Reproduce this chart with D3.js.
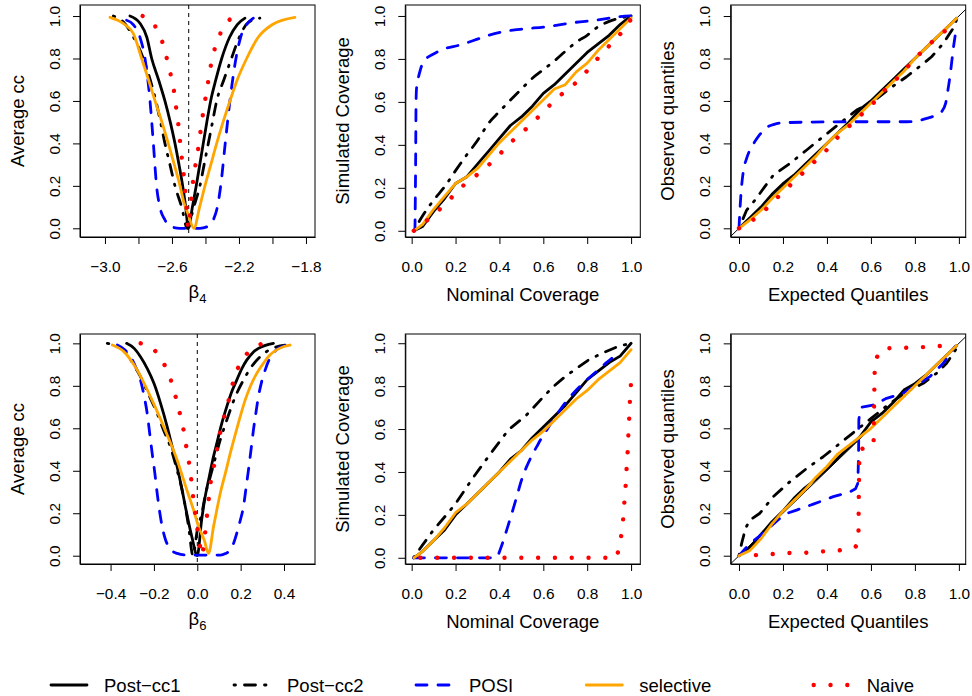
<!DOCTYPE html>
<html>
<head>
<meta charset="utf-8">
<script src="https://cdn.jsdelivr.net/npm/d3@7"></script>
<style>
  body { margin: 0; background: #fff; }
  svg { display: block; }
</style>
</head>
<body>
<svg id="chart" width="972" height="696"></svg>
<script>
'use strict';

// ---------- data ----------
const seriesNames = ['Post-cc1', 'Post-cc2', 'POSI', 'selective', 'Naive'];

const unitTicks = [0, 0.2, 0.4, 0.6, 0.8, 1.0];
const beta4Ticks = [-3.0, -2.8, -2.6, -2.4, -2.2, -2.0, -1.8];
const beta6Ticks = [-0.4, -0.2, 0.0, 0.2, 0.4];
const beta4True = -2.5;
const beta6True = 0.0;

const nominalGrid = [0.01, 0.05, 0.1, 0.15, 0.2, 0.25, 0.3, 0.35, 0.4, 0.45, 0.5, 0.55, 0.6, 0.65, 0.7, 0.75, 0.8, 0.85, 0.9, 0.95, 1.0];
const quantileGrid = [0, 0.05, 0.1, 0.15, 0.2, 0.25, 0.3, 0.35, 0.4, 0.45, 0.5, 0.55, 0.6, 0.65, 0.7, 0.75, 0.8, 0.85, 0.9, 0.95, 0.99];

// beta4: average confidence curves
const b4PostCc1 = [[-2.851,1.0],[-2.79,0.965],[-2.75,0.90],[-2.721,0.80],[-2.68,0.70],[-2.642,0.60],[-2.61,0.50],[-2.582,0.40],[-2.558,0.30],[-2.536,0.20],[-2.518,0.10],[-2.502,0.0],
  [-2.478,0.10],[-2.455,0.20],[-2.434,0.30],[-2.413,0.40],[-2.392,0.50],[-2.369,0.60],[-2.338,0.70],[-2.303,0.80],[-2.256,0.90],[-2.21,0.96],[-2.164,0.99]];
const b4PostCc2 = [[-2.95,1.0],[-2.891,0.973],[-2.831,0.903],[-2.771,0.80],[-2.73,0.70],[-2.696,0.60],[-2.668,0.50],[-2.642,0.40],[-2.612,0.30],[-2.582,0.20],[-2.542,0.10],[-2.508,0.0],
  [-2.47,0.10],[-2.433,0.20],[-2.408,0.30],[-2.383,0.40],[-2.358,0.50],[-2.333,0.60],[-2.29,0.70],[-2.245,0.80],[-2.198,0.90],[-2.144,0.97],[-2.075,0.99]];
const b4Posi = [[-2.871,0.98],[-2.831,0.96],[-2.791,0.90],[-2.761,0.80],[-2.731,0.60],[-2.711,0.40],[-2.692,0.20],[-2.672,0.10],[-2.642,0.04],[-2.612,0.01],[-2.552,0.0],[-2.433,0.0],
  [-2.383,0.01],[-2.353,0.04],[-2.329,0.10],[-2.309,0.20],[-2.282,0.40],[-2.254,0.60],[-2.218,0.80],[-2.19,0.90],[-2.154,0.96],[-2.114,0.99]];
const b4Selective = [[-2.97,0.994],[-2.891,0.965],[-2.831,0.918],[-2.781,0.80],[-2.74,0.70],[-2.701,0.60],[-2.66,0.50],[-2.622,0.40],[-2.586,0.30],[-2.552,0.20],[-2.528,0.12],[-2.505,0.07],[-2.469,0.0],
  [-2.435,0.10],[-2.403,0.20],[-2.368,0.30],[-2.333,0.40],[-2.295,0.50],[-2.254,0.60],[-2.21,0.70],[-2.154,0.80],[-2.085,0.90],[-2.0,0.96],[-1.866,0.994]];
const b4Naive = [[-2.775,1.0],[-2.701,0.953],[-2.658,0.879],[-2.632,0.804],[-2.608,0.725],[-2.588,0.647],[-2.575,0.568],[-2.562,0.49],[-2.552,0.411],[-2.541,0.33],[-2.53,0.254],[-2.516,0.133],[-2.502,0.0],
  [-2.486,0.13],[-2.47,0.25],[-2.452,0.33],[-2.437,0.411],[-2.424,0.49],[-2.409,0.568],[-2.393,0.647],[-2.377,0.725],[-2.359,0.804],[-2.329,0.879],[-2.29,0.953],[-2.214,1.0]];

// simulated vs nominal coverage, top row
const p2PostCc1 = [0.0,0.02,0.09,0.15,0.22,0.25,0.31,0.37,0.43,0.49,0.53,0.58,0.64,0.68,0.73,0.78,0.83,0.87,0.91,0.96,1.0];
const p2Selective = [0.0,0.03,0.10,0.16,0.22,0.25,0.29,0.35,0.41,0.46,0.51,0.56,0.61,0.66,0.68,0.74,0.78,0.84,0.89,0.94,0.99];
const p2PostCc2 = [0.0,0.07,0.142,0.205,0.28,0.352,0.42,0.50,0.555,0.608,0.66,0.71,0.75,0.79,0.835,0.878,0.91,0.95,0.975,0.99,1.0];
const p2Naive = [0.0,0.03,0.075,0.12,0.175,0.225,0.262,0.305,0.355,0.41,0.455,0.50,0.555,0.605,0.65,0.69,0.745,0.805,0.86,0.915,0.985];
const p2Posi = [[0.015,0],[0.018,0.3],[0.02,0.6],[0.022,0.66],[0.03,0.71],[0.04,0.75],[0.053,0.787],[0.07,0.805],[0.091,0.818],[0.144,0.845],[0.22,0.865],[0.296,0.891],[0.35,0.91],[0.403,0.924],[0.494,0.938],[0.616,0.95],[0.737,0.969],[0.843,0.981],[0.95,0.997],[1.0,1.0]];

// observed vs expected quantiles, top row
const p3PostCc1 = [0.0,0.05,0.1,0.16,0.21,0.25,0.3,0.35,0.4,0.45,0.5,0.56,0.6,0.65,0.7,0.75,0.8,0.85,0.9,0.95,0.99];
const p3Selective = [0.0,0.04,0.085,0.14,0.19,0.24,0.29,0.34,0.4,0.45,0.49,0.54,0.59,0.64,0.69,0.74,0.8,0.85,0.9,0.95,0.99];
const p3Naive = [0.0,0.03,0.065,0.12,0.17,0.22,0.27,0.32,0.37,0.43,0.48,0.53,0.575,0.64,0.685,0.74,0.8,0.85,0.9,0.94,0.98];
const p3PostCc2 = [[0,0],[0.035,0.086],[0.073,0.133],[0.12,0.2],[0.156,0.25],[0.232,0.306],[0.308,0.369],[0.383,0.432],[0.459,0.495],[0.535,0.557],[0.611,0.597],[0.686,0.659],[0.762,0.714],[0.83,0.769],[0.876,0.808],[0.929,0.871],[0.974,0.942],[0.989,0.981]];
const p3Posi = [[0,0],[0.005,0.1],[0.012,0.2],[0.02,0.27],[0.035,0.33],[0.05,0.37],[0.07,0.405],[0.09,0.435],[0.126,0.475],[0.16,0.49],[0.2,0.497],[0.308,0.5],[0.535,0.502],[0.762,0.502],[0.82,0.508],[0.853,0.518],[0.9,0.535],[0.921,0.549],[0.94,0.59],[0.95,0.65],[0.96,0.72],[0.967,0.78],[0.975,0.85],[0.982,0.9],[0.986,0.93]];

// beta6: average confidence curves
const b6PostCc1 = [[-0.326,1.0],[-0.29,0.975],[-0.262,0.937],[-0.23,0.88],[-0.2,0.812],[-0.17,0.72],[-0.139,0.608],[-0.115,0.51],[-0.093,0.419],[-0.072,0.32],[-0.055,0.231],[-0.025,0.089],[0.0,0.0],
  [0.02,0.168],[0.035,0.27],[0.052,0.356],[0.07,0.445],[0.09,0.529],[0.112,0.62],[0.136,0.702],[0.158,0.77],[0.182,0.827],[0.205,0.88],[0.228,0.921],[0.255,0.955],[0.282,0.976],[0.351,1.0]];
const b6PostCc2 = [[-0.415,1.0],[-0.339,0.969],[-0.3,0.91],[-0.262,0.843],[-0.225,0.76],[-0.185,0.67],[-0.155,0.59],[-0.124,0.513],[-0.095,0.41],[-0.07,0.309],[-0.04,0.137],[-0.02,0.0],
  [0.0,0.12],[0.021,0.2],[0.04,0.3],[0.06,0.372],[0.083,0.46],[0.106,0.545],[0.13,0.62],[0.152,0.686],[0.18,0.76],[0.213,0.827],[0.25,0.89],[0.29,0.937],[0.33,0.968],[0.366,0.984],[0.405,0.992]];
const b6Posi = [[-0.369,0.992],[-0.335,0.97],[-0.308,0.937],[-0.285,0.89],[-0.262,0.827],[-0.245,0.75],[-0.231,0.67],[-0.22,0.58],[-0.208,0.482],[-0.196,0.39],[-0.185,0.294],[-0.174,0.21],[-0.162,0.137],[-0.148,0.08],[-0.132,0.042],[-0.113,0.02],[-0.093,0.011],[-0.048,0.003],
  [0.106,0.003],[0.13,0.01],[0.152,0.027],[0.168,0.06],[0.182,0.105],[0.198,0.165],[0.213,0.231],[0.225,0.32],[0.236,0.403],[0.248,0.5],[0.259,0.592],[0.27,0.67],[0.282,0.749],[0.297,0.82],[0.313,0.874],[0.33,0.92],[0.351,0.953],[0.37,0.975],[0.389,0.984],[0.412,0.992]];
const b6Selective = [[-0.392,0.992],[-0.339,0.961],[-0.277,0.874],[-0.216,0.749],[-0.155,0.608],[-0.093,0.451],[-0.048,0.309],[-0.017,0.215],[0.006,0.137],[0.032,0.074],[0.052,0.011],
  [0.075,0.137],[0.09,0.215],[0.106,0.294],[0.13,0.39],[0.152,0.482],[0.175,0.57],[0.198,0.655],[0.22,0.73],[0.244,0.796],[0.275,0.86],[0.305,0.906],[0.335,0.945],[0.366,0.969],[0.4,0.985],[0.428,0.992]];
const b6Naive = [[-0.261,1.0],[-0.196,0.966],[-0.152,0.9],[-0.121,0.824],[-0.1,0.749],[-0.081,0.672],[-0.064,0.595],[-0.051,0.516],[-0.038,0.438],[-0.028,0.361],[-0.016,0.25],[0.0,0.13],[0.015,0.03],[0.02,0.0],
  [0.03,0.05],[0.038,0.124],[0.052,0.26],[0.064,0.361],[0.08,0.438],[0.093,0.516],[0.109,0.595],[0.129,0.672],[0.149,0.749],[0.167,0.824],[0.195,0.9],[0.244,0.966],[0.305,1.0]];

// simulated vs nominal coverage, bottom row
const p5PostCc1 = [0.0,0.03,0.08,0.13,0.2,0.25,0.3,0.35,0.4,0.46,0.5,0.56,0.61,0.66,0.71,0.77,0.83,0.87,0.91,0.94,1.0];
const p5Selective = [0.0,0.03,0.08,0.14,0.21,0.25,0.3,0.35,0.4,0.45,0.5,0.55,0.59,0.64,0.69,0.74,0.78,0.83,0.87,0.91,0.97];
const p5PostCc2 = [[0.008,0],[0.05,0.06],[0.099,0.129],[0.15,0.19],[0.198,0.249],[0.274,0.365],[0.357,0.482],[0.441,0.596],[0.524,0.666],[0.6,0.75],[0.646,0.798],[0.7,0.845],[0.752,0.883],[0.81,0.925],[0.874,0.956],[0.94,0.985],[1,1]];
const p5Posi = [[0.008,0],[0.38,0],[0.395,0.015],[0.403,0.036],[0.418,0.08],[0.433,0.129],[0.456,0.205],[0.479,0.285],[0.5,0.36],[0.524,0.425],[0.547,0.475],[0.57,0.518],[0.593,0.56],[0.616,0.596],[0.646,0.645],[0.676,0.689],[0.706,0.73],[0.737,0.767],[0.768,0.8],[0.798,0.829],[0.83,0.858],[0.859,0.883],[0.885,0.907],[0.912,0.93]];
const p5Naive = [[0.04,0],[0.935,0],[0.942,0.036],[0.95,0.075],[0.957,0.114],[0.965,0.191],[0.97,0.269],[0.976,0.347],[0.98,0.425],[0.985,0.505],[0.988,0.583],[0.992,0.661],[0.995,0.74],[1.0,0.821]];

// observed vs expected quantiles, bottom row
const p6PostCc1 = [0.0,0.04,0.1,0.16,0.21,0.27,0.32,0.36,0.41,0.46,0.51,0.56,0.63,0.67,0.72,0.78,0.81,0.85,0.9,0.95,0.99];
const p6Selective = [0.0,0.025,0.08,0.15,0.21,0.26,0.31,0.37,0.42,0.48,0.52,0.56,0.6,0.65,0.7,0.75,0.8,0.85,0.9,0.95,0.99];
const p6PostCc2 = [[0,0],[0.012,0.058],[0.03,0.13],[0.05,0.168],[0.095,0.2],[0.156,0.278],[0.232,0.349],[0.308,0.411],[0.383,0.466],[0.459,0.529],[0.535,0.592],[0.611,0.655],[0.686,0.717],[0.762,0.772],[0.838,0.812],[0.898,0.859],[0.944,0.906],[0.989,0.976]];
const p6Posi = [[0,0],[0.05,0.058],[0.09,0.09],[0.126,0.121],[0.186,0.176],[0.22,0.2],[0.262,0.215],[0.338,0.243],[0.429,0.278],[0.505,0.301],[0.53,0.315],[0.54,0.34],[0.542,0.403],[0.544,0.5],[0.545,0.639],[0.55,0.68],[0.558,0.699],[0.611,0.71],[0.671,0.741],[0.747,0.765],[0.808,0.804],[0.868,0.843],[0.929,0.906],[0.982,0.984]];
const p6Naive = [[0.077,0.003],[0.156,0.008],[0.227,0.013],[0.303,0.014],[0.379,0.02],[0.455,0.025],[0.527,0.038],[0.543,0.06],[0.545,0.3],[0.548,0.5],[0.612,0.52],[0.615,0.75],[0.618,0.92],[0.652,0.976],[0.8,0.98],[0.955,0.99]];


// ---------- layout / style ----------
const FONT = '"Liberation Sans", Arial, Helvetica, sans-serif';
const tickFont = 15.4,
	titleFont = 18.5;

const colLeft = [80, 405.3, 730.7],
	boxWidth = 235,
	rowTop = [5, 334],
	rowHeight = [232, 230];

const seriesStyles = [
	{ color: '#000000', width: 2.8, dash: null },
	{ color: '#000000', width: 2.8, dash: '1.5 9 11 9' },
	{ color: '#0000ff', width: 2.8, dash: '11 11' },
	{ color: '#ffa500', width: 2.8, dash: null },
	{ color: '#ff0000', width: 4.4, dash: '0.01 16.8' }
];

// legend text start positions along the bottom strip
const legendTextX = [104, 287, 469, 639.3, 866.7];


const zip = function(xs, ys) {
	return xs.map(function(x, i) { return [x, ys[i]]; });
};

// smooth: indices of series drawn with a monotone curve instead of straight segments
const panels = [
	{ col: 0, row: 0, xDomain: [-3.149, -1.746], yDomain: [-0.041, 1.052], xTicks: beta4Ticks, labelEvery: 2,
		xSub: '4', yTitle: 'Average cc', vline: beta4True, smooth: [0, 1, 2, 3, 4],
		series: [b4PostCc1, b4PostCc2, b4Posi, b4Selective, b4Naive] },
	{ col: 1, row: 0, xDomain: [-0.029, 1.042], yDomain: [-0.029, 1.051], xTicks: unitTicks, labelEvery: 1,
		xTitle: 'Nominal Coverage', yTitle: 'Simulated Coverage', smooth: [1, 2],
		series: [zip(nominalGrid, p2PostCc1), zip(nominalGrid, p2PostCc2), p2Posi, zip(nominalGrid, p2Selective), zip(nominalGrid, p2Naive)] },
	{ col: 2, row: 0, xDomain: [-0.0377, 1.031], yDomain: [-0.041, 1.052], xTicks: unitTicks, labelEvery: 1,
		xTitle: 'Expected Quantiles', yTitle: 'Observed quantiles', diagonal: true, smooth: [2],
		series: [zip(quantileGrid, p3PostCc1), p3PostCc2, p3Posi, zip(quantileGrid, p3Selective), zip(quantileGrid, p3Naive)] },
	{ col: 0, row: 1, xDomain: [-0.541, 0.543], yDomain: [-0.039, 1.044], xTicks: beta6Ticks, labelEvery: 1,
		xSub: '6', yTitle: 'Average cc', vline: beta6True, smooth: [0, 1, 2, 3, 4],
		series: [b6PostCc1, b6PostCc2, b6Posi, b6Selective, b6Naive] },
	{ col: 1, row: 1, xDomain: [-0.029, 1.042], yDomain: [-0.029, 1.043], xTicks: unitTicks, labelEvery: 1,
		xTitle: 'Nominal Coverage', yTitle: 'Simulated Coverage', smooth: [2],
		series: [zip(nominalGrid, p5PostCc1), p5PostCc2, p5Posi, zip(nominalGrid, p5Selective), p5Naive] },
	{ col: 2, row: 1, xDomain: [-0.0377, 1.031], yDomain: [-0.039, 1.044], xTicks: unitTicks, labelEvery: 1,
		xTitle: 'Expected Quantiles', yTitle: 'Observed quantiles', diagonal: true, smooth: [],
		series: [zip(quantileGrid, p6PostCc1), p6PostCc2, p6Posi, zip(quantileGrid, p6Selective), p6Naive] }
];


const svg = d3.select('#chart');
svg.append('rect').attr('width', 972).attr('height', 696).attr('fill', '#fff');

const fmt = d3.format('.1f');

/**
* draw one panel: lines, reference line, box, axes and titles
*/
const drawPanel = function(p, idx) {
	const left = colLeft[p.col],
		top = rowTop[p.row],
		w = boxWidth,
		h = rowHeight[p.row];

	const x = d3.scaleLinear().domain(p.xDomain).range([0, w]);
	const y = d3.scaleLinear().domain(p.yDomain).range([h, 0]);

	const g = svg.append('g').attr('transform', 'translate(' + left + ',' + top + ')');

	const clipId = 'clip' + idx;
	g.append('clipPath').attr('id', clipId)
		.append('rect').attr('width', w).attr('height', h);

	const plot = g.append('g').attr('clip-path', 'url(#' + clipId + ')');

	// reference lines (abline)
	if (p.vline !== undefined) {
		plot.append('line')
			.attr('x1', x(p.vline)).attr('x2', x(p.vline))
			.attr('y1', 0).attr('y2', h)
			.attr('stroke', '#000').attr('stroke-width', 1)
			.attr('stroke-dasharray', '4 4');
	}
	if (p.diagonal) {
		const lo = Math.min(p.xDomain[0], p.yDomain[0]) - 0.1,
			hi = Math.max(p.xDomain[1], p.yDomain[1]) + 0.1;
		plot.append('line')
			.attr('x1', x(lo)).attr('y1', y(lo))
			.attr('x2', x(hi)).attr('y2', y(hi))
			.attr('stroke', '#000').attr('stroke-width', 1);
	}

	const straight = d3.line()
		.x(function(d) { return x(d[0]); })
		.y(function(d) { return y(d[1]); });
	const curved = d3.line()
		.curve(d3.curveMonotoneX)
		.x(function(d) { return x(d[0]); })
		.y(function(d) { return y(d[1]); });

	p.series.forEach(function(data, i) {
		const st = seriesStyles[i],
			gen = p.smooth.indexOf(i) >= 0 ? curved : straight;
		plot.append('path')
			.attr('d', gen(data))
			.attr('fill', 'none')
			.attr('stroke', st.color)
			.attr('stroke-width', st.width)
			.attr('stroke-linecap', 'round')
			.attr('stroke-linejoin', 'round')
			.attr('stroke-dasharray', st.dash);
	});

	// box
	g.append('rect')
		.attr('width', w).attr('height', h)
		.attr('fill', 'none').attr('stroke', '#000').attr('stroke-width', 1);

	// axes
	const xAxis = d3.axisBottom(x)
		.tickValues(p.xTicks)
		.tickSize(7)
		.tickSizeOuter(0)
		.tickPadding(17.4)
		.tickFormat(function(d, i) { return i % p.labelEvery === 0 ? fmt(d) : ''; });

	const gx = g.append('g')
		.attr('transform', 'translate(0,' + h + ')')
		.call(xAxis)
		.attr('font-size', tickFont)
		.attr('font-family', FONT);
	gx.select('.domain').attr('stroke', '#000');
	gx.selectAll('.tick line').attr('stroke', '#000');
	gx.selectAll('text').attr('fill', '#000');

	const yAxis = d3.axisLeft(y)
		.tickValues(unitTicks)
		.tickSize(7)
		.tickSizeOuter(0)
		.tickFormat(fmt);

	const gy = g.append('g')
		.call(yAxis)
		.attr('font-size', tickFont)
		.attr('font-family', FONT);
	gy.select('.domain').attr('stroke', '#000');
	gy.selectAll('.tick line').attr('stroke', '#000');
	gy.selectAll('text')
		.attr('fill', '#000')
		.attr('x', null)
		.attr('dy', null)
		.attr('text-anchor', 'middle')
		.attr('transform', 'translate(-20.4,0) rotate(-90)');

	// titles
	if (p.xSub) {
		const t = g.append('text')
			.attr('x', w / 2)
			.attr('y', h + 60.5)
			.attr('text-anchor', 'middle')
			.attr('font-family', FONT)
			.attr('font-size', titleFont)
			.attr('fill', '#000');
		t.append('tspan').text('\u03b2');
		t.append('tspan')
			.attr('font-size', 13)
			.attr('dy', 5)
			.text(p.xSub);
	} else {
		g.append('text')
			.attr('x', w / 2)
			.attr('y', h + 64.4)
			.attr('text-anchor', 'middle')
			.attr('font-family', FONT)
			.attr('font-size', titleFont)
			.attr('fill', '#000')
			.text(p.xTitle);
	}

	g.append('text')
		.attr('transform', 'translate(-56.5,' + (h / 2) + ') rotate(-90)')
		.attr('text-anchor', 'middle')
		.attr('font-family', FONT)
		.attr('font-size', titleFont)
		.attr('fill', '#000')
		.text(p.yTitle);
};

panels.forEach(drawPanel);


/**
* legend strip along the bottom
*/
const drawLegend = function() {
	const legendY = 685,
		segLen = 36,
		segGap = 53;

	const lg = svg.append('g').attr('class', 'legend');

	seriesNames.forEach(function(name, i) {
		const st = seriesStyles[i],
			tx = legendTextX[i],
			x1 = tx - segGap;

		lg.append('line')
			.attr('x1', x1).attr('x2', x1 + segLen)
			.attr('y1', legendY).attr('y2', legendY)
			.attr('stroke', st.color)
			.attr('stroke-width', st.width)
			.attr('stroke-linecap', 'round')
			.attr('stroke-dasharray', st.dash);

		lg.append('text')
			.attr('x', tx)
			.attr('y', legendY + 6.8)
			.attr('font-family', FONT)
			.attr('font-size', titleFont)
			.attr('fill', '#000')
			.text(name.replace('-', '\u2212'));
	});
};

drawLegend();
</script>
</body>
</html>
